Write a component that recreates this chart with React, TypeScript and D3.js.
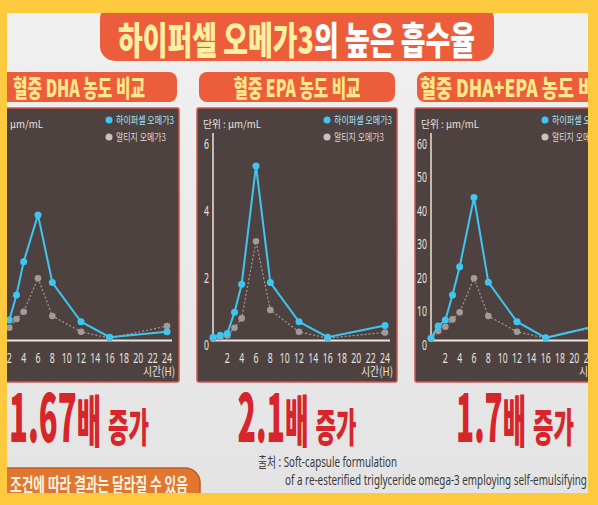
import * as d3 from "d3";

// sampling times (h) and the values
const hours = [0, 1, 2, 3, 4, 6, 8, 12, 16, 24];
const xTicks = [2, 4, 6, 8, 10, 12, 14, 16, 18, 20, 22, 24];

const dhaHyper = [0.7, 4.0, 6.1, 13.6, 23.5, 37.5, 17.3, 5.6, 1.0, 2.6];
const dhaRtg = [0.5, 2.5, 3.8, 6.4, 8.6, 18.6, 7.3, 2.6, 0.7, 4.3];
const epaHyper = [0.1, 0.16, 0.21, 0.84, 1.68, 5.21, 1.73, 0.56, 0.1, 0.45];
const epaRtg = [0.05, 0.1, 0.15, 0.38, 0.66, 2.96, 0.91, 0.26, 0.07, 0.24];
const totalHyper = [0.7, 4.3, 6.1, 13.6, 22.0, 42.7, 17.4, 5.6, 0.8, 4.8];
const totalRtg = [0.5, 2.8, 4.1, 6.3, 8.4, 18.6, 7.3, 2.6, 0.7, 4.5];

const dhaTicks = [0, 10, 20, 30, 40, 50, 60];
const epaTicks = [0, 2, 4, 6];
const totalTicks = [0, 10, 20, 30, 40, 50, 60];

const panelTitles = ["혈중 DHA 농도 비교", "혈중 EPA 농도 비교", "혈중 DHA+EPA 농도 비교"];
const ratioLabels = ["1.67배", "2.1배", "1.7배"];
const seriesNames = ["하이퍼셀 오메가3", "알티지 오메가3"];

// layout
const W = 598;
const H = 505;
const KR = "'Noto Sans CJK KR', 'Noto Sans', sans-serif";
const SANS = "'Noto Sans', 'Noto Sans CJK KR', sans-serif";
const CYAN = "#3ec6f0";
const GREY = "#a39b98";
const ORANGE = "#ec5e3b";
const PALE = "#fde98c";
const RED = "#d6262b";
const AXIS_TXT = "#e8e2de";
const panelLefts = [-21, 197, 415];
const titleWidths = [132, 127, 190];
const ratioWidths = [92, 71, 70];
const legendWidths = [58, 50];

interface PanelProps {
  left: number;
  ticks: number[];
  hyper: number[];
  rtg: number[];
}

// narrow tick label: squeeze the glyphs horizontally like the slide's condensed face
function Narrow({ x, y, anchor, children }: { x: number; y: number; anchor: string; children: any }) {
  return (
    <text
      transform={`translate(${x},${y}) scale(0.62,1)`}
      textAnchor={anchor}
      fontFamily={SANS}
      fontSize={14}
      fill={AXIS_TXT}
    >
      {children}
    </text>
  );
}

function Panel({ left, ticks, hyper, rtg }: PanelProps) {
  const x = d3.scaleLinear().domain([0, 24]).range([left + 16, left + 188]);
  const y = d3
    .scaleLinear()
    .domain([0, ticks[ticks.length - 1]])
    .range([340.5, 139.5]);
  const line = d3
    .line<number>()
    .x((_, i) => x(hours[i]))
    .y((d) => y(d));

  return (
    <g>
      <rect x={left} y={108} width={200} height={274} rx={2} fill="#4e4240" stroke="#d2544c" strokeWidth={1.5} />
      <text x={left + 6} y={128} fontFamily={KR} fontSize={10} fill={AXIS_TXT} textLength={58} lengthAdjust="spacingAndGlyphs">
        단위 : μm/mL
      </text>
      {seriesNames.map((name, i) => (
        <g key={name}>
          <circle cx={left + 130} cy={120 + i * 17} r={3.5} fill={i === 0 ? CYAN : "#c9c2bf"} />
          <text
            x={left + 137}
            y={124 + i * 17}
            fontFamily={KR}
            fontSize={10}
            fill={i === 0 ? "#a9e3f7" : "#ddd6d2"}
            textLength={legendWidths[i]}
            lengthAdjust="spacingAndGlyphs"
          >
            {name}
          </text>
        </g>
      ))}

      <line x1={x(0)} x2={x(0)} y1={133} y2={341} stroke="#e8e4e0" strokeWidth={1.5} />
      <line x1={x(0)} x2={left + 193} y1={340.5} y2={340.5} stroke="#e8e4e0" strokeWidth={2} />
      {x(0) > 12 &&
        ticks.map((t) => (
          <Narrow key={t} x={x(0) - 4} y={y(t) + 9} anchor="end">
            {t}
          </Narrow>
        ))}
      {xTicks.map((t) => (
        <Narrow key={t} x={x(t)} y={363} anchor="middle">
          {t}
        </Narrow>
      ))}
      <text x={left + 180} y={376} textAnchor="middle" fontFamily={KR} fontSize={12} fill={AXIS_TXT} textLength={32} lengthAdjust="spacingAndGlyphs">
        시간(H)
      </text>

      <path d={line(rtg) ?? ""} fill="none" stroke={GREY} strokeWidth={1.2} strokeDasharray="2,2" />
      {rtg.map((v, i) => (
        <circle key={i} cx={x(hours[i])} cy={y(v)} r={3.3} fill={GREY} />
      ))}
      <path d={line(hyper) ?? ""} fill="none" stroke={CYAN} strokeWidth={2} />
      {hyper.map((v, i) => (
        <circle key={i} cx={x(hours[i])} cy={y(v)} r={3.5} fill={CYAN} />
      ))}
    </g>
  );
}

export default function App() {
  const panels = [
    { ticks: dhaTicks, hyper: dhaHyper, rtg: dhaRtg },
    { ticks: epaTicks, hyper: epaHyper, rtg: epaRtg },
    { ticks: totalTicks, hyper: totalHyper, rtg: totalRtg },
  ];

  return (
    <svg width={W} height={H} style={{ position: "absolute", left: 0, top: 0 }}>
      <defs>
        <linearGradient id="slide" x1="0" y1="0" x2="0" y2="1">
          <stop offset="0" stopColor="#f1f1f1" />
          <stop offset="1" stopColor="#e3e3e3" />
        </linearGradient>
      </defs>
      <rect width={W} height={H} fill="url(#slide)" />

      {/* main heading */}
      <rect x={100} y={4} width={394} height={57} rx={15} fill={ORANGE} />
      <text
        x={118}
        y={54}
        fontFamily={KR}
        fontWeight={900}
        fontSize={38}
        textLength={357}
        lengthAdjust="spacingAndGlyphs"
      >
        <tspan fill="#fdf0a0">하이퍼셀 오메가3</tspan>
        <tspan fill="#ffffff">의 높은 흡수율</tspan>
      </text>

      {panels.map((p, i) => {
        const left = panelLefts[i];
        const cx = left + 100;
        const groupW = ratioWidths[i] + 7 + 41;
        const start = cx - groupW / 2;
        const label = ratioLabels[i];
        return (
          <g key={i}>
            <rect x={left + 2} y={72} width={196} height={30} rx={8} fill={ORANGE} />
            <text
              x={cx}
              y={97}
              textAnchor="middle"
              fontFamily={KR}
              fontWeight={900}
              fontSize={24}
              fill={PALE}
              textLength={titleWidths[i]}
              lengthAdjust="spacingAndGlyphs"
            >
              {panelTitles[i]}
            </text>
            <Panel left={left} ticks={p.ticks} hyper={p.hyper} rtg={p.rtg} />
            <text
              x={start}
              y={442}
              fontFamily={KR}
              fontWeight={900}
              fill={RED}
              textLength={ratioWidths[i]}
              lengthAdjust="spacingAndGlyphs"
            >
              <tspan fontSize={66}>{label.slice(0, -1)}</tspan>
              <tspan fontSize={56}>{label.slice(-1)}</tspan>
            </text>
            <text
              x={start + ratioWidths[i] + 7}
              y={442}
              fontFamily={KR}
              fontWeight={900}
              fontSize={40}
              fill={RED}
              textLength={41}
              lengthAdjust="spacingAndGlyphs"
            >
              증가
            </text>
          </g>
        );
      })}

      {/* source note */}
      <text x={258} y={467} fontFamily={SANS} fontSize={14} fill="#3a3a3a" textLength={139} lengthAdjust="spacingAndGlyphs">
        출처 : Soft-capsule formulation
      </text>
      <text x={285} y={485} fontFamily={SANS} fontSize={14} fill="#3a3a3a" textLength={308} lengthAdjust="spacingAndGlyphs">
        of a re-esterified triglyceride omega-3 employing self-emulsifying t
      </text>

      <rect x={-12} y={468} width={212} height={44} rx={15} fill="#e1772f" stroke="#c45a1f" strokeWidth={1.5} />
      <text
        x={10}
        y={492}
        fontFamily={KR}
        fontWeight={700}
        fontSize={19}
        fill="#fff3e2"
        textLength={178}
        lengthAdjust="spacingAndGlyphs"
      >
        조건에 따라 결과는 달라질 수 있음
      </text>

      {/* yellow frame */}
      <rect x={0} y={0} width={W} height={13} fill="#fdc93f" />
      <rect x={0} y={493} width={W} height={12} fill="#fdc93f" />
      <rect x={0} y={0} width={7} height={H} fill="#fdc93f" />
      <rect x={588} y={0} width={10} height={H} fill="#fdc93f" />
    </svg>
  );
}
